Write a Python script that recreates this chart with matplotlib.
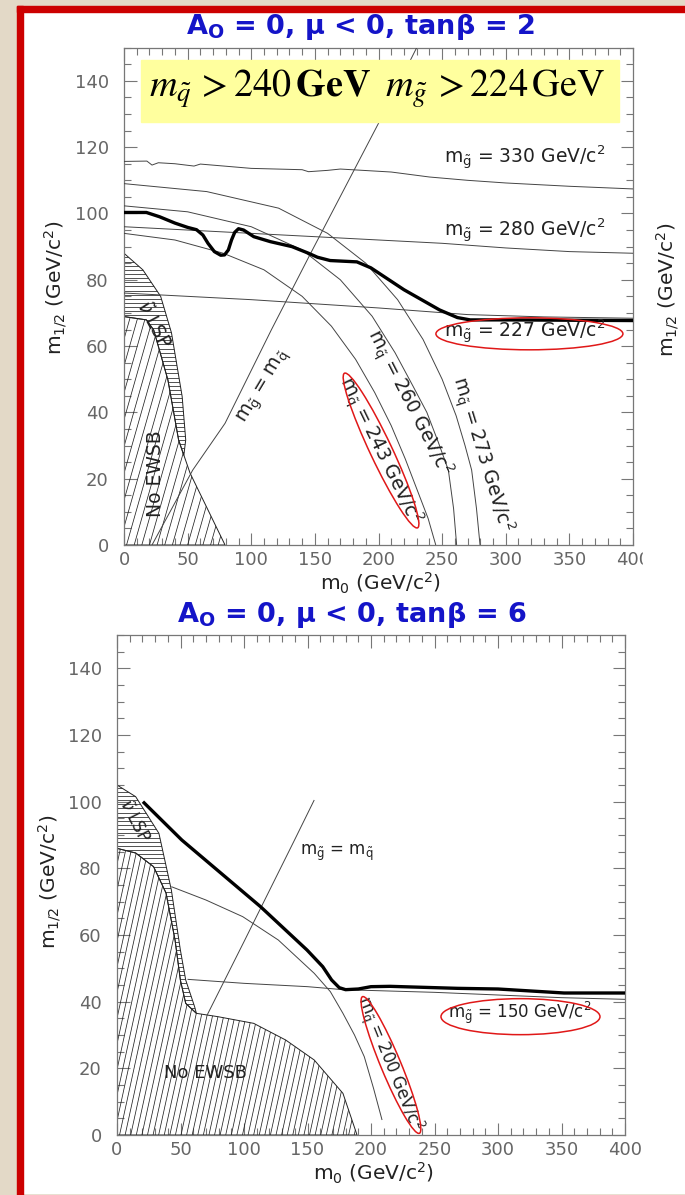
import numpy as np
import matplotlib
matplotlib.use("Agg")
import matplotlib.pyplot as plt
from matplotlib.patches import Rectangle, Ellipse, Polygon
from matplotlib.collections import LineCollection
from matplotlib.ticker import MultipleLocator
from matplotlib.transforms import ScaledTranslation

W, H = 685, 1195

# ---------- A0 = 0, mu < 0, tan(beta) = 2 : (m0, m1/2) points ----------
lim2 = [(0, 100.3), (17.6, 100.3), (28, 99), (40, 97.1), (50, 95.8), (57, 95.1),
        (62, 93.5), (66, 91), (71, 88.5), (76, 87.4), (79, 87.5), (82, 89),
        (84.5, 92), (87, 94.3), (90, 95.4), (94, 95), (102, 93), (115, 91.5),
        (132, 90), (145, 88), (152, 86.8), (162, 85.8), (183, 85.4), (194, 83.6),
        (220, 77), (248, 70.9), (262, 68.6), (272, 67.9), (300, 67.9), (350, 67.8),
        (400, 67.7)]
g330 = [(0, 115.7), (18, 115.8), (22, 114.6), (27, 115.3), (40, 115), (55, 114.3),
        (60, 114.9), (100, 113.6), (140, 113.2), (145, 112.6), (160, 113.0),
        (170, 113.4), (210, 112.5), (240, 111), (270, 110), (300, 109.2),
        (350, 108.2), (400, 107.4)]
g280 = [(0, 96), (50, 95), (100, 94), (150, 93), (200, 92), (250, 91), (300, 89.6),
        (350, 88.5), (400, 88)]
g227 = [(0, 76), (100, 74), (200, 71.5), (270, 69.5), (330, 68.8), (400, 68.4)]
sq273 = [(0, 109), (65, 106.6), (121.5, 101.6), (160, 94), (190, 85), (215, 74),
         (235, 62), (250, 50), (261, 39), (268, 30), (273.2, 22.6), (277, 11),
         (279.8, 0)]
sq260 = [(0, 102.3), (50, 100.5), (100, 96), (140, 89), (170, 80), (195, 69),
         (213, 58), (227, 48), (238, 40), (247, 31), (254.9, 22.6), (259, 11),
         (261.4, 0)]
sq243 = [(0, 94), (40, 92), (78, 88), (110, 83), (140, 75), (163, 66), (182, 56),
         (197, 46), (210, 36), (221, 26), (231, 16), (239, 8), (245, 0)]
diag2 = [(22, 0), (54, 22.6), (79.4, 36.7), (115.8, 64.9), (146.7, 88),
         (201.5, 128.3), (230, 150)]
ewsb2 = [(0, 68.9), (17.6, 67.9), (23.3, 64.9), (34.5, 49.8), (42.9, 31.7),
         (51.9, 21.7), (79.4, 0)]
lsp2 = [(0, 88), (14.8, 83), (28.8, 75), (37.3, 64), (45.7, 44.8), (48.5, 31.7),
        (47, 27)]

# ---------- A0 = 0, mu < 0, tan(beta) = 6 ----------
lim6 = [(20.4, 100), (51, 88.5), (113, 68.5), (149.6, 55.5), (162, 50.5), (169, 46.5),
        (175, 44.2), (180, 43.6), (190, 43.8), (200, 44.5), (215, 44.6), (268, 44),
        (300, 43.8), (352, 42.6), (400, 42.6)]
g150 = [(55.5, 46.7), (100, 45.5), (150, 44.5), (178, 43.6), (250, 42.8), (300, 42),
        (350, 41.2), (400, 40.7)]
sq200 = [(42.8, 74.5), (70, 70.5), (99, 65.5), (127, 58.5), (155.3, 48.5), (168, 43),
         (177.9, 36.5), (187, 30), (194.7, 23.5), (202, 14), (208.7, 4.5)]
diag6 = [(71, 36), (100, 58), (139.8, 88.5), (155.3, 100.5)]
ewsb6 = [(0, 86), (14.7, 84.6), (28.8, 80.5), (38.6, 72.6), (45.7, 58.5), (49.9, 46.5),
         (54.1, 39.5), (62.5, 36.5), (79.4, 35.5), (107.6, 33.5), (132.8, 28.5),
         (155.3, 22.5), (177.9, 12.5), (189, 0)]
lsp6 = [(0, 105), (14.7, 101.5), (33, 90.5), (42.8, 73.5), (49.9, 55.5), (54.1, 46.5),
        (61.1, 38.5), (62.5, 36.5)]

BLUE = '#1414c8'
RED = '#e01818'
INK = '#222222'

plt.rcParams['font.family'] = ['DejaVu Sans']
plt.rcParams['mathtext.fontset'] = 'dejavusans'

fig = plt.figure(figsize=(W / 100, H / 100), dpi=100, facecolor='#e3d9c7')


def fx(px):
    return px / W


def fy(py):
    return 1 - py / H


# white sheet with red border
fig.add_artist(Rectangle((fx(23), fy(1193)), fx(685 - 23), (1193 - 12) / H,
                         transform=fig.transFigure, color='white', zorder=-10))
fig.add_artist(Rectangle((fx(17), 0), fx(6), 1 - 6 / H,
                         transform=fig.transFigure, color='#cc0000', zorder=-9))
fig.add_artist(Rectangle((fx(17), fy(12)), fx(685 - 17), 6 / H,
                         transform=fig.transFigure, color='#cc0000', zorder=-9))


def make_axes(x0, y0, x1, y1):
    ax = fig.add_axes([fx(x0), fy(y1), fx(x1 - x0), (y1 - y0) / H])
    ax.set_xlim(0, 400)
    ax.set_ylim(0, 150)
    ax.xaxis.set_major_locator(MultipleLocator(50))
    ax.xaxis.set_minor_locator(MultipleLocator(10))
    ax.yaxis.set_major_locator(MultipleLocator(20))
    ax.yaxis.set_minor_locator(MultipleLocator(5))
    ax.tick_params(which='both', direction='in', top=True, right=True,
                   color='#777777', width=0.8, labelcolor='#666666', labelsize=13)
    ax.tick_params(which='major', length=9)
    ax.tick_params(which='minor', length=5)
    ax.tick_params(axis='x', pad=4)
    ax.tick_params(axis='y', pad=11)
    for s in ax.spines.values():
        s.set_color('#777777')
        s.set_linewidth(0.9)
    return ax


def curve(ax, pts, lw=0.7, color='#444444'):
    a = np.array(pts)
    ax.plot(a[:, 0], a[:, 1], color=color, lw=lw, zorder=3, solid_capstyle='butt')


def hatch(ax, outline, kind, step, k=1.35):
    poly = Polygon(outline, closed=True, fill=False, lw=0.7, ec=INK, zorder=2)
    ax.add_patch(poly)
    if kind == 'diag':
        segs = [[(c, 0), (c + 160 / k, 160)] for c in np.arange(-130, 220, step)]
    else:
        segs = [[(0, y), (120, y)] for y in np.arange(0.5, 150, step)]
    lc = LineCollection(segs, colors=INK, linewidths=0.55, zorder=2)
    ax.add_collection(lc, autolim=False)
    lc.set_clip_path(poly)


def ring(ax, m0, m12, w, h, ang):
    tr = fig.dpi_scale_trans + ScaledTranslation(m0, m12, ax.transData)
    ax.add_artist(Ellipse((0, 0), w / 100, h / 100, angle=ang, transform=tr,
                          fill=False, ec=RED, lw=1.1, zorder=5))


def note(ax, m0, m12, s, rot=0, size=13.5):
    ax.text(m0, m12, s, rotation=rot, rotation_mode='anchor', ha='center',
            va='center', fontsize=size, color=INK, zorder=4)


GL = r'm$_{\tilde{\mathrm{g}}}$'
SQ = r'm$_{\tilde{\mathrm{q}}}$'

# ---------------- upper panel ----------------
ax1 = make_axes(124, 47.7, 633, 545)
hatch(ax1, [(0, 0)] + ewsb2, 'diag', 6, k=1.35)
hatch(ax1, lsp2 + ewsb2[4::-1], 'horiz', 1.25)
for c in (g330, g280, g227, sq273, sq260, sq243, diag2):
    curve(ax1, c)
curve(ax1, lim2, lw=2.4, color='black')

note(ax1, 315, 117, GL + ' = 330 GeV/c$^2$')
note(ax1, 315, 95, GL + ' = 280 GeV/c$^2$')
note(ax1, 315, 64.4, GL + ' = 227 GeV/c$^2$')
ring(ax1, 318.6, 63.7, 187, 32, 0)
note(ax1, 110, 47.8, GL + ' = ' + SQ, rot=59)
note(ax1, 201, 28.5, SQ + ' = 243 GeV/c$^2$', rot=-64)
ring(ax1, 202, 28.5, 171, 22, -64.7)
note(ax1, 224, 43, SQ + ' = 260 GeV/c$^2$', rot=-63)
note(ax1, 281, 27.5, SQ + ' = 273 GeV/c$^2$', rot=-73)
note(ax1, 24.7, 21.6, 'No EWSB', rot=90)
note(ax1, 23, 66.5, r'$\tilde{\nu}$ LSP', rot=-62)

# ---------------- lower panel ----------------
ax2 = make_axes(117, 635, 625, 1135)
hatch(ax2, [(0, 0)] + ewsb6, 'diag', 4.4, k=1.75)
hatch(ax2, lsp6 + ewsb6[6::-1], 'horiz', 1.25)
for c in (g150, sq200, diag6):
    curve(ax2, c)
curve(ax2, lim6, lw=2.4, color='black')

note(ax2, 173, 84.6, GL + ' = ' + SQ, size=12)
note(ax2, 317, 36.6, GL + ' = 150 GeV/c$^2$', size=12)
ring(ax2, 317.7, 35.5, 159, 36, 0)
note(ax2, 214.4, 21.5, SQ + ' = 200 GeV/c$^2$', rot=-68, size=12)
ring(ax2, 215.7, 21, 148, 20, -67.4)
note(ax2, 69.5, 18.6, 'No EWSB', size=13)
note(ax2, 13.4, 94, r'$\tilde{\nu}$ LSP', rot=-63, size=12)

# axis titles
xlab = r'm$_0$ (GeV/c$^2$)'
ylab = r'm$_{1/2}$ (GeV/c$^2$)'
fig.text(fx(381), fy(583), xlab, ha='center', va='center', fontsize=14.5, color=INK)
fig.text(fx(374), fy(1173), xlab, ha='center', va='center', fontsize=14.5, color=INK)
fig.text(fx(56), fy(288), ylab, ha='center', va='center', rotation=90, fontsize=14.5, color=INK)
fig.text(fx(50), fy(882), ylab, ha='center', va='center', rotation=90, fontsize=14.5, color=INK)
fig.text(fx(668), fy(290), ylab, ha='center', va='center', rotation=90, fontsize=14.5, color=INK)

# the upper plot is cut off at its right side
fig.add_artist(Rectangle((fx(643), fy(575)), fx(10), 25 / H, transform=fig.transFigure,
                         color='white', zorder=3))

# panel headings
fig.text(fx(360), fy(27), r'A$_{\mathbf{O}}$ = 0, μ < 0, tanβ = 2', ha='center', va='center',
         fontsize=19.5, fontweight='bold', color=BLUE)
fig.text(fx(352), fy(615), r'A$_{\mathbf{O}}$ = 0, μ < 0, tanβ = 6', ha='center', va='center',
         fontsize=19.5, fontweight='bold', color=BLUE)

# highlighted limits
fig.add_artist(Rectangle((fx(141), fy(122)), fx(619 - 141), 62 / H, transform=fig.transFigure,
                         color='#ffff9e', zorder=4))
fig.text(fx(377), fy(89),
         r'$m_{\tilde{q}}\,>240\,\mathbf{GeV}\;\;m_{\tilde{g}}\,>224\,\mathrm{GeV}$',
         ha='center', va='center', fontsize=27.5, color='black', math_fontfamily='stix', zorder=5)

fig.savefig('out.png', dpi=100, facecolor=fig.get_facecolor())
